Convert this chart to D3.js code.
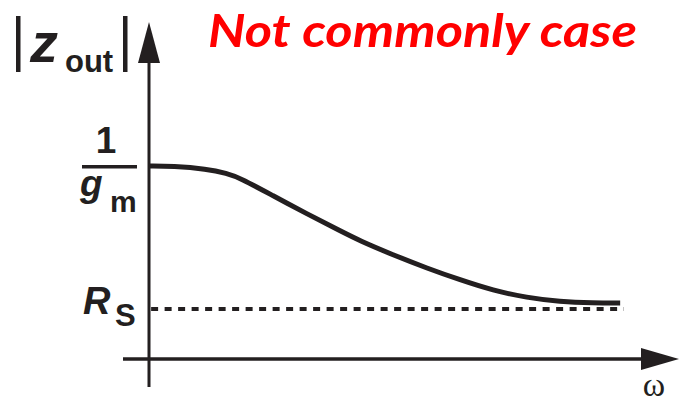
<!DOCTYPE html>
<html>
<head>
<meta charset="utf-8">
<title>Zout vs omega</title>
<script src="https://cdn.jsdelivr.net/npm/d3@7"></script>
<style>
  body { margin: 0; background: #fff; }
  text { font-family: "Liberation Sans", Arial, sans-serif; font-weight: bold; fill: #231f20; }
</style>
</head>
<body>
<div class="container"></div>
<script>
// curve (omega in arbitrary units, |Zout| in units of 1/gm)
var omega = [0, 0.45, 1.09, 1.47, 1.72, 2.34, 2.98, 3.60, 3.98, 4.60, 5.25, 5.87, 6.49, 7.13, 7.75, 8.38, 8.89];
var zout  = [1.0, 1.0, 0.985, 0.962, 0.938, 0.846, 0.752, 0.665, 0.612, 0.540, 0.470, 0.410, 0.355, 0.318, 0.297, 0.290, 0.290];
var rsLevel = [0.259];
var rsSpan = [0.04, 8.96];
var gmLevel = [1.0];
var title = "Not commonly case";

var svgWidth = 679, svgHeight = 404;
var svg = d3.select('.container').append('svg')
  .attr('width', svgWidth)
  .attr('height', svgHeight);

var x = d3.scaleLinear().domain([0, 10]).range([149, 679]);
var y = d3.scaleLinear().domain([0, 1]).range([359, 166]);

var ink = "#231f20";

// axes
svg.append('line')
  .attr('x1', x(0)).attr('x2', x(0))
  .attr('y1', y(0) + 28).attr('y2', 40)
  .attr('stroke', ink).attr('stroke-width', 3);
svg.append('line')
  .attr('x1', x(0) - 26).attr('x2', x(10) - 20)
  .attr('y1', y(0)).attr('y2', y(0))
  .attr('stroke', ink).attr('stroke-width', 3.5);

// arrow heads
svg.append('path')
  .attr('d', `M${x(0)},22 L${x(0) - 11},63 L${x(0) + 11},63 Z`)
  .attr('fill', ink);
svg.append('path')
  .attr('d', `M${x(10)},${y(0)} L${x(10) - 38},${y(0) - 11} L${x(10) - 38},${y(0) + 11} Z`)
  .attr('fill', ink);

// Rs dashed line
svg.append('line')
  .attr('x1', x(rsSpan[0])).attr('x2', x(rsSpan[1]))
  .attr('y1', y(rsLevel[0])).attr('y2', y(rsLevel[0]))
  .attr('stroke', ink).attr('stroke-width', 4)
  .attr('stroke-dasharray', '7 6.5');

// the curve
var line = d3.line()
  .x(function(d, i) { return x(omega[i]); })
  .y(function(d) { return y(d); })
  .curve(d3.curveBasis);

svg.append('path')
  .attr('d', line(zout))
  .attr('fill', 'none')
  .attr('stroke', ink)
  .attr('stroke-width', 5);

// |Zout| label
svg.append('rect').attr('x', 16).attr('y', 16).attr('width', 4.5).attr('height', 56).attr('fill', ink);
svg.append('rect').attr('x', 123).attr('y', 16).attr('width', 4.5).attr('height', 56).attr('fill', ink);
svg.append('text').attr('x', 30).attr('y', 62).attr('font-size', 56).attr('font-style', 'italic').text('z');
svg.append('text').attr('x', 65).attr('y', 72).attr('font-size', 31).text('out');

// 1/gm label
var gy = y(gmLevel[0]);
svg.append('text').attr('x', 106).attr('y', gy - 13).attr('font-size', 37).attr('text-anchor', 'middle').text('1');
svg.append('rect').attr('x', 82).attr('y', gy - 1).attr('width', 55).attr('height', 3.5).attr('fill', ink);
svg.append('text').attr('x', 80).attr('y', gy + 30).attr('font-size', 37).attr('font-style', 'italic').text('g');
svg.append('text').attr('x', 110).attr('y', gy + 46).attr('font-size', 30).text('m');

// Rs label
var ry = y(rsLevel[0]);
svg.append('text').attr('x', 83).attr('y', ry + 5).attr('font-size', 38).attr('font-style', 'italic').text('R');
svg.append('text').attr('x', 115).attr('y', ry + 17).attr('font-size', 31).text('S');

// omega label
svg.append('text').attr('x', 654).attr('y', 396).attr('font-size', 34)
  .attr('text-anchor', 'middle')
  .style('font-family', '"Liberation Serif", serif').style('font-weight', 'normal')
  .text('ω');

// red note
svg.append('text').attr('x', 208).attr('y', 47).attr('font-size', 46)
  .style('font-family', 'Lato, "Open Sans", sans-serif')
  .style('font-style', 'italic')
  .style('fill', '#ff0000')
  .attr('textLength', 429).attr('lengthAdjust', 'spacingAndGlyphs')
  .text(title);
</script>
</body>
</html>
